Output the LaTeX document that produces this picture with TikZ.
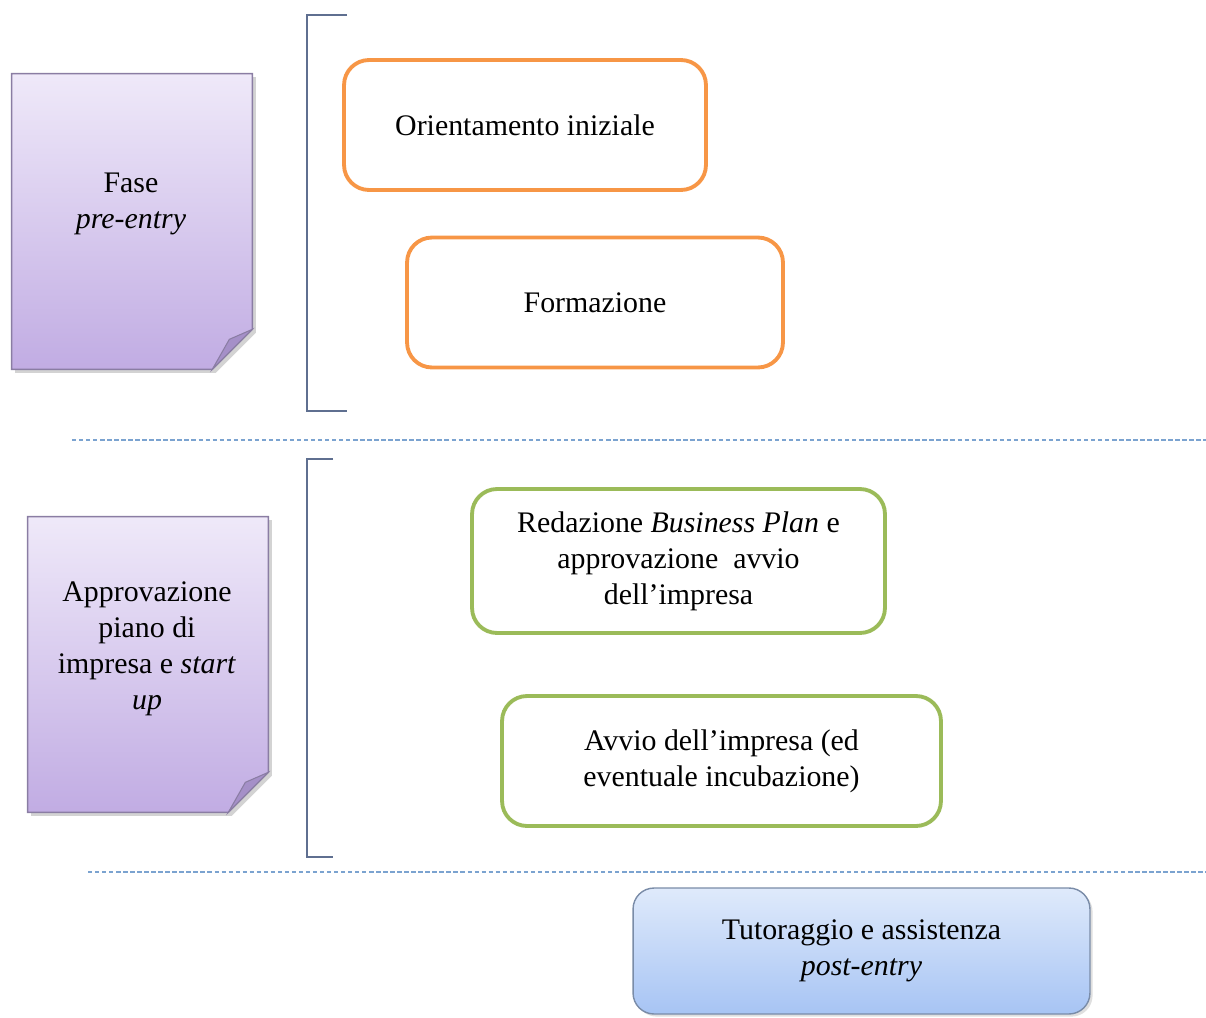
\documentclass[tikz,border=0pt]{standalone}
\usepackage{fontspec}
\setmainfont{Liberation Serif}
\usetikzlibrary{shadows}
\definecolor{orangeline}{HTML}{F79646}
\definecolor{greenline}{HTML}{9BBB59}
\definecolor{pagetop}{HTML}{EFE9F9}
\definecolor{pagebot}{HTML}{C1ACE3}
\definecolor{pageline}{HTML}{8A7DA3}
\definecolor{foldfill}{HTML}{A590C8}
\definecolor{bluetop}{HTML}{DFEAFB}
\definecolor{bluebot}{HTML}{A7C4F4}
\definecolor{blueline}{HTML}{7A8CA8}
\definecolor{bracketline}{HTML}{5F6F90}
\definecolor{dashline}{HTML}{7BA3D0}
\tikzset{
  txt/.style={font=\fontsize{17}{20.5}\selectfont,align=center},
  pagebox/.style={minimum width=4.8cm,minimum height=5.9cm},
  pagefill/.style={draw=pageline,line width=0.8pt,top color=pagetop,bottom color=pagebot,
    drop shadow={opacity=0.35,shadow xshift=2pt,shadow yshift=-2pt}},
  foldpart/.style={draw=pageline,line width=0.6pt,fill=foldfill},
  sepline/.style={draw=dashline,line width=0.8pt,dash pattern=on 2.5pt off 1.5pt},
  bracket/.style={draw=bracketline,line width=1pt}
}
\begin{document}
\begin{tikzpicture}[x=0.02cm,y=-0.02cm]
\useasboundingbox (0,0) rectangle (1206,1017);
\begin{scope}[every node/.style={pagebox}]
    \node (F1) at (132,221.5) {};
    \node (F2) at (148,664.5) {};
\end{scope}
\foreach \p in {F1,F2}{
    \path[pagefill] (\p.north west) -- (\p.north east) -- ([yshift=0.8cm]\p.south east)
        -- ([xshift=-0.8cm]\p.south east) -- (\p.south west) -- cycle;
    \path[foldpart] ([xshift=-0.8cm]\p.south east) -- ([xshift=-0.46cm,yshift=0.6cm]\p.south east)
        -- ([yshift=0.8cm]\p.south east) -- cycle;
}
\begin{scope}[every node/.style={txt}]
    \node (F1t) at (131,204) {Fase\\\textit{pre-entry}};
    \node (F2t) at (147,649) {Approvazione\\piano di\\impresa e \textit{start}\\\textit{up}};
\end{scope}
\begin{scope}[every node/.style={txt,rounded corners=0.5cm,draw=orangeline,line width=2.2pt,minimum height=2.6cm}]
    \node[minimum width=7.24cm] (O1) at (525,125) {Orientamento iniziale};
    \node[minimum width=7.52cm] (O2) at (595,302.5) {Formazione};
\end{scope}
\begin{scope}[every node/.style={txt,rounded corners=0.5cm,draw=greenline,line width=2.2pt}]
    \node[minimum width=8.26cm,minimum height=2.88cm] (G1) at (678.5,561)
        {Redazione \textit{Business Plan} e\\approvazione\ \ avvio\\dell’impresa};
    \node[minimum width=8.78cm,minimum height=2.6cm] (G2) at (721.5,761)
        {Avvio dell’impresa (ed\\eventuale incubazione)};
\end{scope}
\node[txt,rounded corners=0.42cm,draw=blueline,line width=0.8pt,top color=bluetop,bottom color=bluebot,
      minimum width=9.14cm,minimum height=2.52cm,
      drop shadow={opacity=0.25,shadow xshift=1.5pt,shadow yshift=-1.5pt}]
    (T) at (861.5,951) {Tutoraggio e assistenza\\\textit{post-entry}};
\draw[bracket] (347,15) -- (307,15) -- (307,411) -- (347,411);
\draw[bracket] (333,459) -- (307,459) -- (307,857) -- (333,857);
\draw[sepline] (72,440) -- (1206,440);
\draw[sepline] (88,872) -- (1206,872);
\end{tikzpicture}
\end{document}
